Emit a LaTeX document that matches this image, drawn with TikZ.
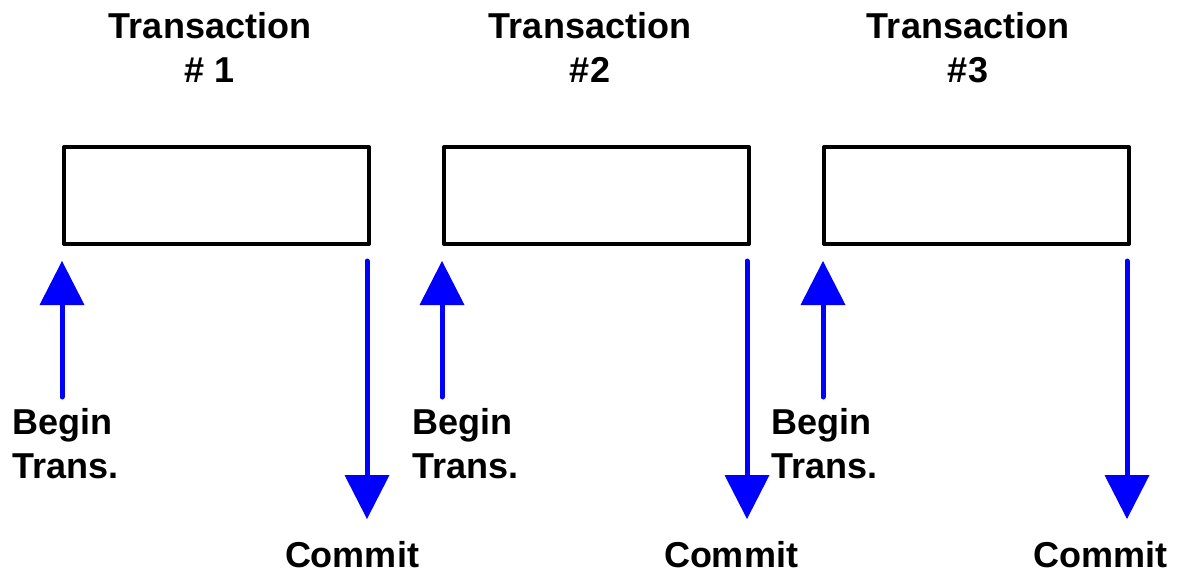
\documentclass[tikz,border=0pt]{standalone}
\usepackage{fontspec}
\setmainfont{Liberation Sans}
\usetikzlibrary{arrows.meta}
\begin{document}
\begin{tikzpicture}[x=1pt,y=-1pt,
  txbox/.style={draw=black,line width=4pt,line join=round,minimum width=305pt,minimum height=97pt,inner sep=0pt,anchor=north west},
  lbl/.style={font=\fontsize{36}{44}\selectfont\bfseries,inner sep=0pt},
  blarrow/.style={draw={rgb,255:red,0;green,0;blue,255},line width=5pt,line cap=round,
    -{Triangle[width=45pt,length=44pt,line width=0pt]}}]
\useasboundingbox (0,0) rectangle (1177,573);
% boxes
\node[txbox] (b1) at (62,145) {};
\node[txbox] (b2) at (442,145) {};
\node[txbox] (b3) at (822,145) {};
% titles
\node[lbl,align=center,anchor=north] (t1) at (210,12) {Transaction\\\# 1};
\node[lbl,align=center,anchor=north] (t2) at (590,12) {Transaction\\\#2};
\node[lbl,align=center,anchor=north] (t3) at (968,12) {Transaction\\\#3};
% begin labels
\node[lbl,align=left,anchor=north west] (g1) at (12,408) {Begin\\Trans.};
\node[lbl,align=left,anchor=north west] (g2) at (412,408) {Begin\\Trans.};
\node[lbl,align=left,anchor=north west] (g3) at (771,408) {Begin\\Trans.};
% commit labels
\node[lbl,anchor=base] (c1) at (352,567) {Commit};
\node[lbl,anchor=base] (c2) at (731,567) {Commit};
\node[lbl,anchor=base] (c3) at (1100,567) {Commit};
% arrow ends
\coordinate (us1) at (62,397);  \coordinate (ue1) at (62,261);
\coordinate (us2) at (442,397); \coordinate (ue2) at (442,261);
\coordinate (us3) at (823,397); \coordinate (ue3) at (823,261);
\coordinate (ds1) at (367,261);  \coordinate (de1) at (367,519);
\coordinate (ds2) at (747,261);  \coordinate (de2) at (747,519);
\coordinate (ds3) at (1127,261); \coordinate (de3) at (1127,519);
\draw[blarrow] (us1) -- (ue1);
\draw[blarrow] (us2) -- (ue2);
\draw[blarrow] (us3) -- (ue3);
\draw[blarrow] (ds1) -- (de1);
\draw[blarrow] (ds2) -- (de2);
\draw[blarrow] (ds3) -- (de3);
\end{tikzpicture}
\end{document}
